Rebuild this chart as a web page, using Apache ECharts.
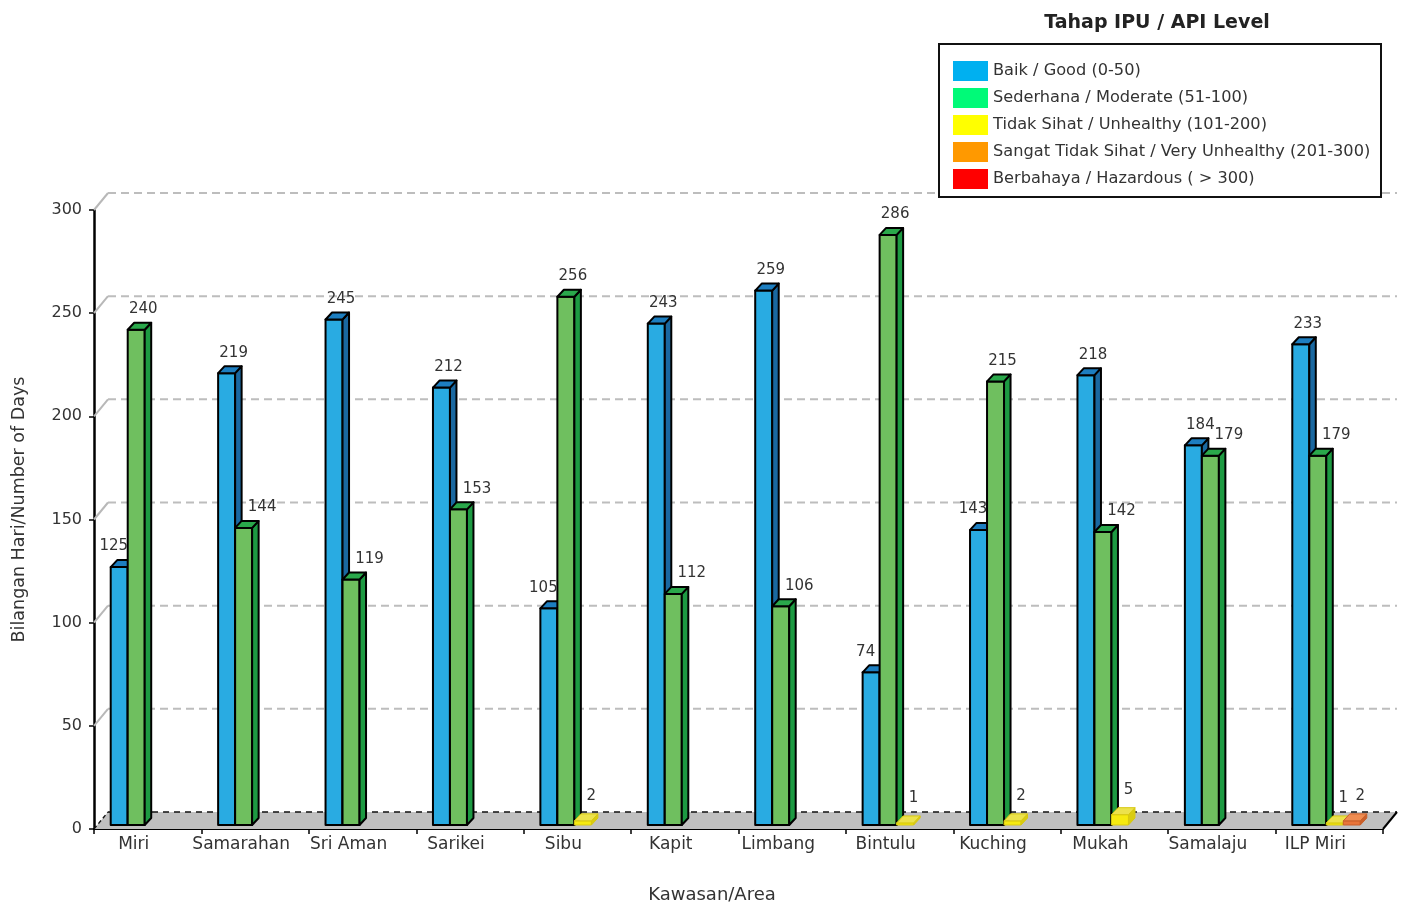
<!DOCTYPE html>
<html>
<head>
<meta charset="utf-8">
<title>Tahap IPU / API Level</title>
<script src="https://cdn.jsdelivr.net/npm/echarts/dist/echarts.min.js"></script>
<style>
  html, body { margin: 0; padding: 0; background: #ffffff; }
  #chart { width: 1403px; height: 909px; }
</style>
</head>
<body>
<div id="chart"></div>
<script>
// Areas (x categories)
const areas = ['Miri', 'Samarahan', 'Sri Aman', 'Sarikei', 'Sibu', 'Kapit', 'Limbang',
               'Bintulu', 'Kuching', 'Mukah', 'Samalaju', 'ILP Miri'];

// Number of days per API level
const good          = [125, 219, 245, 212, 105, 243, 259, 74, 143, 218, 184, 233];
const moderate      = [240, 144, 119, 153, 256, 112, 106, 286, 215, 142, 179, 179];
const unhealthy     = [0, 0, 0, 0, 2, 0, 0, 1, 2, 5, 0, 1];
const veryUnhealthy = [0, 0, 0, 0, 0, 0, 0, 0, 0, 0, 0, 2];
const hazardous     = [0, 0, 0, 0, 0, 0, 0, 0, 0, 0, 0, 0];

const levelNames = [
  'Baik / Good (0-50)',
  'Sederhana / Moderate (51-100)',
  'Tidak Sihat / Unhealthy (101-200)',
  'Sangat Tidak Sihat / Very Unhealthy (201-300)',
  'Berbahaya / Hazardous ( > 300)'
];

// Value axis ticks
const yTicks = [0, 50, 100, 150, 200, 250, 300];

const FONT = '"DejaVu Sans", "Liberation Sans", sans-serif';

// Pseudo-3D geometry (pixels)
const BAR = { w: 17, dx: 6.5, dy: -7, lift: 4, shift: -20 };
const FLOOR = { dx: 14, dy: -17 };

const palette = [
  { legend: '#00b0f0', front: '#29abe2', top: '#1d7ec0', side: '#1a68a0', stroke: '#000000', lw: 2 },
  { legend: '#00fa78', front: '#6fbf5f', top: '#2aa84b', side: '#1d9a42', stroke: '#000000', lw: 2 },
  { legend: '#ffff00', front: '#f6ea10', top: '#ece24c', side: '#d9cc10', stroke: '#d8c810', lw: 1 },
  { legend: '#ff9900', front: '#e8753a', top: '#f08c50', side: '#c95f2a', stroke: '#c95f2a', lw: 1 },
  { legend: '#ff0000', front: '#e02020', top: '#f04040', side: '#b01818', stroke: '#b01818', lw: 1 }
];

const levelData = [good, moderate, unhealthy, veryUnhealthy, hazardous];

// Front-face corners of a box for one level at one category
function boxGeom(api, slot, cat, v) {
  const base = api.coord([cat, 0]);
  const top = api.coord([cat, v]);
  const x0 = base[0] + BAR.shift + (slot - 1) * BAR.w;
  return { x0: x0, x1: x0 + BAR.w, yb: base[1] - BAR.lift, yt: top[1] - BAR.lift };
}

function barSeries(name, values, slot) {
  const c = palette[slot];
  return {
    type: 'custom',
    name: name,
    coordinateSystem: 'cartesian2d',
    z: 10 + slot,
    clip: false,
    itemStyle: { color: c.legend },
    data: values.map((v, i) => [i, v]),
    renderItem: function (params, api) {
      const v = api.value(1);
      if (!v) return null;
      const g = boxGeom(api, slot, api.value(0), v);
      const x0 = g.x0, x1 = g.x1, yb = g.yb, yt = g.yt;
      const dx = BAR.dx, dy = BAR.dy;
      const edge = { stroke: c.stroke, lineWidth: c.lw, lineJoin: 'round' };
      return {
        type: 'group',
        children: [
          { type: 'polygon', shape: { points: [[x0, yb], [x1, yb], [x1, yt], [x0, yt]] },
            style: Object.assign({ fill: c.front }, edge) },
          { type: 'polygon', shape: { points: [[x1, yb], [x1 + dx, yb + dy], [x1 + dx, yt + dy], [x1, yt]] },
            style: Object.assign({ fill: c.side }, edge) },
          { type: 'polygon', shape: { points: [[x0, yt], [x1, yt], [x1 + dx, yt + dy], [x0 + dx, yt + dy]] },
            style: Object.assign({ fill: c.top }, edge) }
        ]
      };
    }
  };
}

// Value labels, drawn above all boxes; a shorter bar's label moves away from its taller neighbour
function labelSeries(values, slot) {
  return {
    type: 'custom',
    name: 'label-' + slot,
    coordinateSystem: 'cartesian2d',
    z: 40,
    clip: false,
    silent: true,
    data: values.map((v, i) => [i, v]),
    renderItem: function (params, api) {
      const v = api.value(1);
      if (!v) return null;
      const cat = api.value(0);
      const g = boxGeom(api, slot, cat, v);
      let x = g.x0 + 15.5;
      let lift = 13;
      if (slot === 0 && moderate[cat] > v) x = g.x0 + 3;
      if (slot === 1 && good[cat] > v) x = g.x0 + 27;
      if (slot >= 2) { x = g.x0 + 17; lift = 17; }
      return {
        type: 'text',
        style: { text: String(v), x: x, y: g.yt - lift,
                 align: 'center', verticalAlign: 'bottom',
                 fontSize: 15, fontFamily: FONT, fill: '#333333' }
      };
    }
  };
}

// Floor and back wall of the 3D frame
const frameSeries = {
  type: 'custom',
  name: 'frame',
  coordinateSystem: 'cartesian2d',
  z: 1,
  clip: false,
  silent: true,
  data: [[0, 0]],
  renderItem: function (params, api) {
    const bw = api.size([1, 0])[0];
    const first = api.coord([0, 0]);
    const left = first[0] - bw / 2;
    const right = left + bw * areas.length;
    const y0 = first[1];
    const fx = FLOOR.dx, fy = FLOOR.dy;
    const children = [];
    // back wall grid lines with their slanted connectors on the side
    yTicks.forEach(function (t) {
      if (t === 0) return;
      const y = api.coord([0, t])[1];
      children.push({ type: 'line', shape: { x1: left, y1: y, x2: left + fx, y2: y + fy },
        style: { stroke: '#b8b8b8', lineWidth: 2 } });
      children.push({ type: 'line', shape: { x1: left + fx, y1: y + fy, x2: right + fx, y2: y + fy },
        style: { stroke: '#bdbdbd', lineWidth: 2, lineDash: [8, 5] } });
    });
    // floor
    children.push({ type: 'polygon',
      shape: { points: [[left, y0], [right, y0], [right + fx, y0 + fy], [left + fx, y0 + fy]] },
      style: { fill: '#c0c0c0', stroke: null } });
    children.push({ type: 'line', shape: { x1: left + fx, y1: y0 + fy, x2: right + fx, y2: y0 + fy },
      style: { stroke: '#111111', lineWidth: 1.6, lineDash: [6, 5] } });
    children.push({ type: 'line', shape: { x1: left, y1: y0, x2: left + fx, y2: y0 + fy },
      style: { stroke: '#111111', lineWidth: 1.4, lineDash: [4, 3] } });
    children.push({ type: 'line', shape: { x1: right, y1: y0, x2: right + fx, y2: y0 + fy },
      style: { stroke: '#000000', lineWidth: 2 } });
    return { type: 'group', children: children };
  }
};

const series = [frameSeries]
  .concat(levelNames.map((n, k) => barSeries(n, levelData[k], k)))
  .concat(levelData.map((d, k) => labelSeries(d, k)));

const chart = echarts.init(document.getElementById('chart'), null, { renderer: 'canvas' });
chart.setOption({
  animation: false,
  backgroundColor: '#ffffff',
  title: {
    text: 'Tahap IPU / API Level',
    left: 1152,
    top: 9,
    textAlign: 'center',
    textStyle: { fontFamily: FONT, fontSize: 19, fontWeight: 'bold', color: '#222222' }
  },
  legend: {
    orient: 'vertical',
    left: 953,
    top: 61,
    padding: 0,
    itemWidth: 35,
    itemHeight: 20,
    itemGap: 7,
    icon: 'rect',
    selectedMode: false,
    data: levelNames,
    textStyle: { fontFamily: FONT, fontSize: 16.2, color: '#333333' }
  },
  graphic: [{
    type: 'rect',
    z: 3,
    shape: { x: 939, y: 44, width: 442, height: 153 },
    style: { fill: '#ffffff', stroke: '#111111', lineWidth: 2 }
  }],
  grid: { left: 94, right: 20, top: 210, bottom: 78, containLabel: false },
  xAxis: {
    type: 'category',
    data: areas,
    boundaryGap: true,
    name: 'Kawasan/Area',
    nameLocation: 'middle',
    nameGap: 57,
    nameTextStyle: { fontFamily: FONT, fontSize: 18, color: '#333333', padding: [0, 53, 0, 0] },
    axisLine: { show: true, lineStyle: { color: '#000000', width: 2 } },
    axisTick: { show: true, length: 5, lineStyle: { color: '#000000', width: 1.5 } },
    axisLabel: { fontFamily: FONT, fontSize: 17, color: '#333333', margin: 7,
                 interval: 0, padding: [0, 28, 0, 0] },
    splitLine: { show: false }
  },
  yAxis: {
    type: 'value',
    min: 0,
    max: 300,
    interval: 50,
    name: 'Bilangan Hari/Number of Days',
    nameLocation: 'middle',
    nameGap: 66,
    nameTextStyle: { fontFamily: FONT, fontSize: 17.5, color: '#333333', padding: [0, 0, 0, 20] },
    axisLine: { show: true, lineStyle: { color: '#000000', width: 2.5 } },
    axisTick: { show: true, length: 5, lineStyle: { color: '#000000', width: 1.5 } },
    axisLabel: { fontFamily: FONT, fontSize: 16, color: '#333333', margin: 12 },
    splitLine: { show: false }
  },
  series: series
});
</script>
</body>
</html>
